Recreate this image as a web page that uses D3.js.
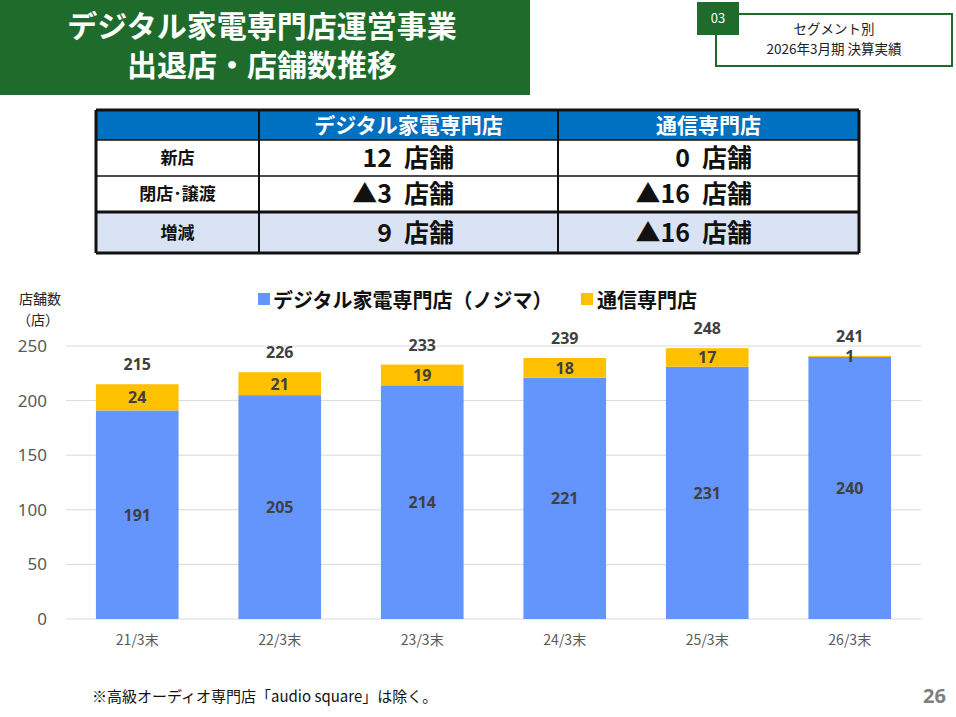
<!DOCTYPE html>
<html><head><meta charset="utf-8">
<script src="https://cdn.jsdelivr.net/npm/d3@7"></script>
<style>
body{margin:0;background:#fff;font-family:"Noto Sans CJK JP","Noto Sans",sans-serif;}
svg{display:block}
</style></head><body>
<svg id="c" width="956" height="717"></svg>
<script>
// chart data
const categories = ['21/3末','22/3末','23/3末','24/3末','25/3末','26/3末'];
const digital = [191,205,214,221,231,240];
const mobile = [24,21,19,18,17,1];
const totals = [215,226,233,239,248,241];
const yTicks = [0,50,100,150,200,250];

// table data
const tableCols = ['', 'デジタル家電専門店', '通信専門店'];
const tableRows = ['新店', '閉店･譲渡', '増減'];
const tableDigital = ['12', '▲3', '9'];
const tableMobile = ['0', '▲16', '▲16'];
const unit = '店舗';

const svg = d3.select('#c');
const JP = '"Noto Sans CJK JP",sans-serif';

// — Header ——————————————————————————————
svg.append('rect').attr('x',0).attr('y',0).attr('width',530).attr('height',95).attr('fill','#1e6b2b');
svg.append('text').attr('x',262).attr('y',37).attr('text-anchor','middle').attr('fill','#fff')
  .attr('font-family',JP).attr('font-weight',700).attr('font-size',30).text('デジタル家電専門店運営事業');
svg.append('text').attr('x',262).attr('y',76).attr('text-anchor','middle').attr('fill','#fff')
  .attr('font-family',JP).attr('font-weight',700).attr('font-size',30).text('出退店・店舗数推移');

svg.append('rect').attr('x',716).attr('y',14).attr('width',236).attr('height',52).attr('fill','#fff').attr('stroke','#1e6b2b').attr('stroke-width',2);
svg.append('rect').attr('x',697).attr('y',2).attr('width',42).attr('height',33).attr('fill','#1e6b2b');
svg.append('text').attr('x',718).attr('y',23).attr('text-anchor','middle').attr('fill','#fff').attr('font-size',13).attr('font-family',JP).text('03');
svg.append('text').attr('x',834).attr('y',34).attr('text-anchor','middle').attr('font-size',13.5).attr('font-family',JP).attr('fill','#222').text('セグメント別');
svg.append('text').attr('x',834).attr('y',54).attr('text-anchor','middle').attr('font-size',13.5).attr('font-family',JP).attr('fill','#222').text('2026年3月期 決算実績');

// — Table ——————————————————————————————
const colX = [96,259,558,859];
const rowY = [110,140,176,212,253];
const tg = svg.append('g');
tg.append('rect').attr('x',96).attr('y',110).attr('width',763).attr('height',30).attr('fill','#0070c0');
tg.append('rect').attr('x',96).attr('y',212).attr('width',763).attr('height',41).attr('fill','#dae3f3');
for (let c=1;c<3;c++) {
  tg.append('text').attr('x',(colX[c]+colX[c+1])/2).attr('y',133).attr('text-anchor','middle')
    .attr('fill','#fff').attr('font-weight',700).attr('font-size',21).attr('font-family',JP).text(tableCols[c]);
}
function cell(xr, yb, num) {
  // number right-aligned before the unit
  tg.append('text').attr('x',xr).attr('y',yb).attr('text-anchor','end')
    .attr('font-weight',700).attr('font-size',25).attr('font-family',JP).attr('fill','#111').text(num);
  tg.append('text').attr('x',xr+12).attr('y',yb)
    .attr('font-weight',700).attr('font-size',25).attr('font-family',JP).attr('fill','#111').text(unit);
}
tableRows.forEach((r,i)=>{
  const cy = (rowY[i+1]+rowY[i+2])/2;
  tg.append('text').attr('x',(colX[0]+colX[1])/2).attr('y',cy+6).attr('text-anchor','middle')
    .attr('font-weight',700).attr('font-size',17).attr('font-family',JP).attr('fill','#111').text(r);
  cell(392, cy+9, tableDigital[i]);
  cell(690, cy+9, tableMobile[i]);
});
rowY.forEach((y,i)=>{
  tg.append('line').attr('x1',96).attr('x2',859).attr('y1',y).attr('y2',y).attr('stroke','#111')
    .attr('stroke-width',(i===0||i===4)?3:(i===3?3:1.5));
});
colX.forEach((x,i)=>{
  tg.append('line').attr('x1',x).attr('x2',x).attr('y1',110).attr('y2',253).attr('stroke','#111')
    .attr('stroke-width',(i===0||i===3)?3:2);
});

// — Chart ——————————————————————————————
const x = d3.scaleBand().domain(categories).range([66,921]).paddingInner(0.42).paddingOuter(0.21);
const y = d3.scaleLinear().domain([0,250]).range([619,346]);

const grid = svg.append('g');
yTicks.forEach(t=>{
  grid.append('line').attr('x1',66).attr('x2',921).attr('y1',y(t)).attr('y2',y(t)).attr('stroke','#d9d9d9');
  grid.append('text').attr('x',47).attr('y',y(t)+6).attr('text-anchor','end').attr('font-size',17)
    .attr('font-family','"Noto Sans",sans-serif').attr('fill','#595959').text(t);
});
svg.append('text').attr('x',40).attr('y',304).attr('text-anchor','middle').attr('font-size',14).attr('font-family',JP).attr('fill','#222').text('店舗数');
svg.append('text').attr('x',38).attr('y',325).attr('text-anchor','middle').attr('font-size',14).attr('font-family',JP).attr('fill','#222').text('（店）');

const bars = svg.append('g').selectAll('g').data(categories).join('g');
bars.append('rect').attr('x',d=>x(d)).attr('width',x.bandwidth())
  .attr('y',(d,i)=>y(digital[i])).attr('height',(d,i)=>y(0)-y(digital[i])).attr('fill','#6495fc');
bars.append('rect').attr('x',d=>x(d)).attr('width',x.bandwidth())
  .attr('y',(d,i)=>y(digital[i]+mobile[i])).attr('height',(d,i)=>y(digital[i])-y(digital[i]+mobile[i])).attr('fill','#ffc000');
const lab = '"Noto Sans",sans-serif';
bars.append('text').attr('x',d=>x(d)+x.bandwidth()/2).attr('y',(d,i)=>y(digital[i]/2)+6)
  .attr('text-anchor','middle').attr('font-size',16).attr('font-weight',700).attr('font-family',lab).attr('fill','#404040')
  .text((d,i)=>digital[i]);
bars.append('text').attr('x',d=>x(d)+x.bandwidth()/2).attr('y',(d,i)=>mobile[i]<5?y(digital[i])+5:y(digital[i]+mobile[i]/2)+6)
  .attr('text-anchor','middle').attr('font-size',16).attr('font-weight',700).attr('font-family',lab).attr('fill','#404040')
  .text((d,i)=>mobile[i]);
bars.append('text').attr('x',d=>x(d)+x.bandwidth()/2).attr('y',(d,i)=>y(totals[i])-14)
  .attr('text-anchor','middle').attr('font-size',16).attr('font-weight',700).attr('font-family',lab).attr('fill','#404040')
  .text((d,i)=>totals[i]);
svg.append('g').selectAll('text').data(categories).join('text')
  .attr('x',d=>x(d)+x.bandwidth()/2).attr('y',645).attr('text-anchor','middle').attr('font-size',14)
  .attr('font-family',JP).attr('fill','#595959').text(d=>d);

// legend
svg.append('rect').attr('x',258).attr('y',293).attr('width',12).attr('height',12).attr('fill','#6495fc');
svg.append('text').attr('x',273).attr('y',308).attr('font-size',20).attr('font-weight',700).attr('font-family',JP).attr('fill','#111').text('デジタル家電専門店（ノジマ）');
svg.append('rect').attr('x',581).attr('y',293).attr('width',12).attr('height',12).attr('fill','#ffc000');
svg.append('text').attr('x',597).attr('y',308).attr('font-size',20).attr('font-weight',700).attr('font-family',JP).attr('fill','#111').text('通信専門店');

// footer
svg.append('text').attr('x',92).attr('y',702).attr('font-size',15).attr('font-family',JP).attr('fill','#111').text('※高級オーディオ専門店「audio square」は除く。');
svg.append('text').attr('x',946).attr('y',703).attr('text-anchor','end').attr('font-size',20).attr('font-weight',700).attr('font-family','"Noto Sans",sans-serif').attr('fill','#7f7f7f').text('26');
</script>
</body></html>
